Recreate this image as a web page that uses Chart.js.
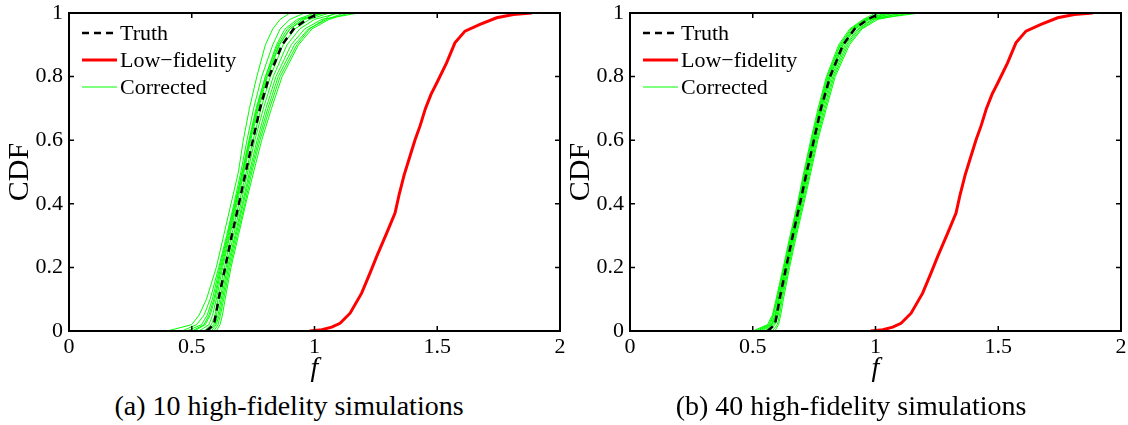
<!DOCTYPE html>
<html>
<head>
<meta charset="utf-8">
<script src="https://cdn.jsdelivr.net/npm/chart.js@4"></script>
<style>
body{margin:0;background:#fff;width:1128px;height:425px;position:relative;overflow:hidden;font-family:"Liberation Serif",serif;color:#000}
canvas{position:absolute;top:0}
.cap{position:absolute;top:390px;font-size:28px;width:560px;text-align:center;white-space:nowrap;line-height:32px}
</style>
</head>
<body>
<canvas id="c1" style="left:0px"></canvas>
<canvas id="c2" style="left:561px"></canvas>
<div class="cap" style="left:9px">(a) 10 high-fidelity simulations</div>
<div class="cap" style="left:571px">(b) 40 high-fidelity simulations</div>
<script>
// CDF levels shared by the truth and corrected curves
const cdfLevels = [0, 0.02, 0.05, 0.1, 0.2, 0.3, 0.4, 0.5, 0.6, 0.7, 0.8, 0.9, 0.95, 0.98, 1.0];
const truthF = [0.56, 0.59, 0.598, 0.609, 0.636, 0.663, 0.692, 0.72, 0.749, 0.778, 0.815, 0.868, 0.915, 0.968, 1.02];

// low-fidelity curve (same in both panels)
const lowF =   [0.98, 1.03, 1.07, 1.104, 1.145, 1.192, 1.226, 1.253, 1.294, 1.328, 1.345, 1.365, 1.385, 1.409, 1.43, 1.452, 1.475, 1.498, 1.538, 1.572, 1.613, 1.674, 1.742, 1.81, 1.885];
const lowCdf = [0, 0.004, 0.012, 0.024, 0.056, 0.119, 0.182, 0.234, 0.308, 0.371, 0.43, 0.49, 0.54, 0.6, 0.645, 0.7, 0.745, 0.78, 0.843, 0.906, 0.943, 0.964, 0.985, 0.995, 1.0];

// corrected curves, f values at cdfLevels
const corrected10 = [
  [0.40, 0.50, 0.53, 0.56, 0.60, 0.63, 0.66, 0.69, 0.71, 0.735, 0.765, 0.80, 0.83, 0.86, 0.90],
  [0.46, 0.52, 0.55, 0.575, 0.61, 0.642, 0.672, 0.70, 0.725, 0.752, 0.785, 0.83, 0.86, 0.90, 0.96],
  [0.50, 0.55, 0.57, 0.59, 0.618, 0.648, 0.678, 0.705, 0.733, 0.762, 0.80, 0.845, 0.88, 0.93, 1.00],
  [0.53, 0.57, 0.585, 0.60, 0.626, 0.655, 0.684, 0.713, 0.74, 0.772, 0.808, 0.858, 0.90, 0.95, 1.03],
  [0.55, 0.58, 0.595, 0.607, 0.633, 0.662, 0.692, 0.722, 0.75, 0.782, 0.82, 0.872, 0.92, 0.98, 1.06],
  [0.56, 0.59, 0.60, 0.615, 0.64, 0.67, 0.70, 0.728, 0.757, 0.792, 0.832, 0.888, 0.94, 1.00, 1.10],
  [0.57, 0.595, 0.607, 0.62, 0.645, 0.676, 0.706, 0.735, 0.766, 0.802, 0.843, 0.905, 0.96, 1.03, 1.18],
  [0.58, 0.60, 0.612, 0.625, 0.65, 0.68, 0.71, 0.74, 0.772, 0.81, 0.852, 0.918, 0.975, 1.05, 1.12],
  [0.59, 0.607, 0.617, 0.63, 0.655, 0.685, 0.716, 0.745, 0.778, 0.817, 0.86, 0.928, 0.98, 1.04, 1.08],
  [0.60, 0.615, 0.625, 0.636, 0.66, 0.69, 0.72, 0.752, 0.785, 0.825, 0.868, 0.935, 0.99, 1.06, 1.14],
  [0.51, 0.555, 0.575, 0.594, 0.622, 0.652, 0.68, 0.71, 0.737, 0.768, 0.805, 0.855, 0.90, 0.96, 1.04],
  [0.48, 0.54, 0.563, 0.584, 0.614, 0.645, 0.675, 0.707, 0.735, 0.765, 0.80, 0.85, 0.89, 0.94, 1.02]
];
const corrected40 = [
  [0.50, 0.56, 0.58, 0.595, 0.624, 0.652, 0.682, 0.708, 0.736, 0.766, 0.80, 0.85, 0.895, 0.95, 1.00],
  [0.52, 0.57, 0.585, 0.60, 0.628, 0.656, 0.686, 0.713, 0.741, 0.772, 0.806, 0.858, 0.905, 0.96, 1.04],
  [0.53, 0.575, 0.59, 0.604, 0.632, 0.66, 0.69, 0.717, 0.745, 0.776, 0.81, 0.863, 0.91, 0.965, 1.08],
  [0.55, 0.58, 0.595, 0.608, 0.635, 0.664, 0.693, 0.72, 0.749, 0.78, 0.815, 0.869, 0.918, 0.975, 1.12],
  [0.56, 0.585, 0.60, 0.612, 0.639, 0.667, 0.697, 0.725, 0.753, 0.785, 0.821, 0.876, 0.928, 0.985, 1.18],
  [0.57, 0.59, 0.604, 0.616, 0.643, 0.671, 0.70, 0.729, 0.757, 0.79, 0.826, 0.882, 0.933, 0.99, 1.06],
  [0.58, 0.60, 0.609, 0.62, 0.646, 0.674, 0.704, 0.733, 0.761, 0.795, 0.831, 0.888, 0.94, 1.00, 1.10],
  [0.59, 0.605, 0.614, 0.625, 0.65, 0.678, 0.708, 0.737, 0.765, 0.80, 0.836, 0.894, 0.945, 1.01, 1.14],
  [0.51, 0.565, 0.583, 0.598, 0.627, 0.655, 0.684, 0.711, 0.739, 0.77, 0.803, 0.855, 0.90, 0.955, 1.02],
  [0.54, 0.578, 0.592, 0.606, 0.634, 0.662, 0.692, 0.72, 0.748, 0.779, 0.814, 0.867, 0.915, 0.97, 1.05]
];

const xTicks = [0, 0.5, 1, 1.5, 2];
const yTicks = [0, 0.2, 0.4, 0.6, 0.8, 1];

const serif = '"Liberation Serif", "Times New Roman", serif';

function pts(xs, ys) {
  return xs.map((x, i) => ({x: x, y: ys[i]}));
}

// box, inward ticks and legend, matlab style
const frame = {
  id: 'frame',
  afterDatasetsDraw(chart) {
    const {ctx, chartArea: a, scales: {x, y}} = chart;
    ctx.save();
    ctx.strokeStyle = '#000';
    ctx.lineWidth = 2;
    ctx.strokeRect(a.left, a.top, a.right - a.left, a.bottom - a.top);
    ctx.lineWidth = 1.5;
    ctx.beginPath();
    xTicks.forEach(v => {
      const px = x.getPixelForValue(v);
      ctx.moveTo(px, a.bottom); ctx.lineTo(px, a.bottom - 5);
      ctx.moveTo(px, a.top); ctx.lineTo(px, a.top + 5);
    });
    yTicks.forEach(v => {
      const py = y.getPixelForValue(v);
      ctx.moveTo(a.left, py); ctx.lineTo(a.left + 5, py);
      ctx.moveTo(a.right, py); ctx.lineTo(a.right - 5, py);
    });
    ctx.stroke();

    const items = chart.data.datasets.slice(0, 3);
    ctx.font = '22px ' + serif;
    ctx.textBaseline = 'middle';
    ctx.fillStyle = '#000';
    items.forEach((ds, i) => {
      const ly = a.top + 20 + i * 27;
      ctx.beginPath();
      ctx.strokeStyle = ds.borderColor;
      ctx.lineWidth = ds.borderWidth;
      ctx.setLineDash(ds.borderDash || []);
      ctx.moveTo(a.left + 13, ly);
      ctx.lineTo(a.left + 48, ly);
      ctx.stroke();
      ctx.setLineDash([]);
      ctx.fillText(ds.label, a.left + 51, ly + 1);
    });
    ctx.restore();
  }
};

function makeChart(id, corrected) {
  const datasets = [
    {label: 'Truth', data: pts(truthF, cdfLevels), borderColor: '#000', borderWidth: 2.5, borderDash: [7, 5]},
    {label: 'Low\u2212fidelity', data: pts(lowF, lowCdf), borderColor: '#ff0000', borderWidth: 3},
  ];
  corrected.forEach(c => {
    datasets.push({label: 'Corrected', data: pts(c, cdfLevels), borderColor: '#00ff00', borderWidth: 1});
  });
  const cv = document.getElementById(id);
  cv.width = 575; cv.height = 390;
  cv.style.width = '575px'; cv.style.height = '390px';
  return new Chart(cv.getContext('2d'), {
    type: 'scatter',
    data: {datasets: datasets},
    options: {
      responsive: false,
      animation: false,
      showLine: true,
      elements: {point: {radius: 0}, line: {tension: 0, fill: false}},
      layout: {padding: {top: 13, right: 15, bottom: 0, left: 0}},
      plugins: {legend: {display: false}, tooltip: {enabled: false}},
      scales: {
        x: {
          type: 'linear', min: 0, max: 2,
          afterBuildTicks(s) { s.ticks = xTicks.map(v => ({value: v})); },
          ticks: {color: '#000', font: {family: serif, size: 22}, padding: 3, maxRotation: 0,
                  callback: v => String(v)},
          grid: {display: false, drawTicks: false},
          border: {display: false},
          title: {display: true, text: 'f', color: '#000', font: {family: serif, size: 28, style: 'italic'}, padding: {top: 0, bottom: 5}},
          afterFit(s) { s.height = 59; s.paddingLeft = 0; s.paddingRight = 0; }
        },
        y: {
          type: 'linear', min: 0, max: 1,
          afterBuildTicks(s) { s.ticks = yTicks.map(v => ({value: v})); },
          ticks: {color: '#000', font: {family: serif, size: 22}, padding: 6, callback: v => String(v)},
          grid: {display: false, drawTicks: false},
          border: {display: false},
          title: {display: true, text: 'CDF', color: '#000', font: {family: serif, size: 30}, padding: {top: 2, bottom: 0}},
          afterFit(s) { s.width = 69; s.paddingTop = 0; s.paddingBottom = 0; }
        }
      }
    },
    plugins: [frame]
  });
}

makeChart('c1', corrected10);
makeChart('c2', corrected40);
</script>
</body>
</html>
